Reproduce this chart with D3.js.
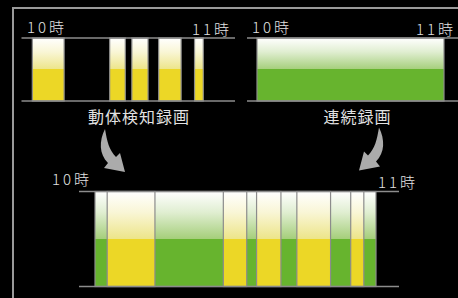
<!DOCTYPE html>
<html>
<head>
<meta charset="utf-8">
<script src="https://cdn.jsdelivr.net/npm/d3@7"></script>
<style>
  body { margin: 0; background: #000; }
  svg { display: block; }
  text { font-family: "Noto Sans CJK JP", "Noto Sans", sans-serif; fill: #e2e2e2; }
</style>
</head>
<body>
<div id="chart"></div>
<script>
// recorded segments, in minutes after 10:00
const motionSegments = [[2.6, 12.8], [27.4, 32.4], [34.5, 39.7], [43.1, 50.3], [54.6, 57.4]];
const continuousSegments = [[0, 60]];
const timeLabels = ["10時", "11時"];
const panelTitles = ["動体検知録画", "連続録画"];

const width = 458, height = 298;

const svg = d3.select("#chart")
    .append("svg")
    .attr("width", width)
    .attr("height", height);

svg.append("rect").attr("width", width).attr("height", height).attr("fill", "#000");

// gradients: white fading to pale colour on top half, solid colour below
const defs = svg.append("defs");
function addGradient(id, pale, solid) {
    const g = defs.append("linearGradient").attr("id", id)
        .attr("x1", 0).attr("y1", 0).attr("x2", 0).attr("y2", 1);
    g.append("stop").attr("offset", "0%").attr("stop-color", "#ffffff");
    g.append("stop").attr("offset", "22%").attr("stop-color", d3.interpolateRgb("#ffffff", pale)(0.35));
    g.append("stop").attr("offset", "49.5%").attr("stop-color", pale);
    g.append("stop").attr("offset", "49.5%").attr("stop-color", solid);
    g.append("stop").attr("offset", "100%").attr("stop-color", solid);
}
addGradient("yellowGrad", "#ede58a", "#ecd726");
addGradient("greenGrad", "#a6cf7c", "#67b42e");

// outer frame
svg.append("rect")
    .attr("x", 13).attr("y", 8)
    .attr("width", 500).attr("height", 400)
    .attr("fill", "none")
    .attr("stroke", "#9a9a9a")
    .attr("stroke-width", 2);

function drawPanel(opts) {
    const x = d3.scaleLinear().domain([0, 60]).range(opts.range);
    const g = svg.append("g");

    const drawBars = (segments, grad) => {
        g.selectAll(null)
            .data(segments)
            .join("rect")
            .attr("x", d => x(d[0]))
            .attr("y", opts.top)
            .attr("width", d => x(d[1]) - x(d[0]))
            .attr("height", opts.bottom - opts.top)
            .attr("fill", `url(#${grad})`)
            .attr("stroke", "#8c8c8c")
            .attr("stroke-width", 1.2);
    };
    opts.layers.forEach(l => drawBars(l.data, l.grad));

    [opts.top, opts.bottom].forEach(y => {
        g.append("line")
            .attr("x1", opts.line[0]).attr("x2", opts.line[1])
            .attr("y1", y).attr("y2", y)
            .attr("stroke", "#8c8c8c")
            .attr("stroke-width", 1.5);
    });

    g.append("text")
        .attr("x", opts.labelLeft[0]).attr("y", opts.labelLeft[1])
        .attr("font-size", 15).attr("font-weight", 300).attr("letter-spacing", 3)
        .text(timeLabels[0]);
    g.append("text")
        .attr("x", opts.labelRight[0]).attr("y", opts.labelRight[1])
        .attr("font-size", 15).attr("font-weight", 300).attr("letter-spacing", 3)
        .attr("text-anchor", "end")
        .text(timeLabels[1]);
}

drawPanel({
    range: [24.2, 211.4], top: 38, bottom: 101, line: [21.5, 235],
    labelLeft: [27, 33], labelRight: [232, 34.5],
    layers: [{data: motionSegments, grad: "yellowGrad"}]
});
drawPanel({
    range: [257, 444], top: 38, bottom: 101, line: [247, 470],
    labelLeft: [252, 33], labelRight: [456, 34.5],
    layers: [{data: continuousSegments, grad: "greenGrad"}]
});
drawPanel({
    range: [95, 376], top: 191.5, bottom: 286.5, line: [79, 399],
    labelLeft: [52, 185], labelRight: [418, 188],
    layers: [{data: continuousSegments, grad: "greenGrad"}, {data: motionSegments, grad: "yellowGrad"}]
});

// titles
svg.append("text").attr("x", 139).attr("y", 123)
    .attr("text-anchor", "middle").attr("font-size", 16).attr("letter-spacing", 1)
    .text(panelTitles[0]);
svg.append("text").attr("x", 357.5).attr("y", 123)
    .attr("text-anchor", "middle").attr("font-size", 16).attr("letter-spacing", 1)
    .text(panelTitles[1]);

// curved arrows pointing into the combined timeline
const arrowPath = "M105,129 C99,141 99,154 108,163 L104,168 L125,172 L120,153 L116,157 C109,150 107,141 105,129 Z";
svg.append("path").attr("d", arrowPath).attr("fill", "#ababab");
svg.append("path").attr("d", arrowPath).attr("fill", "#ababab")
    .attr("transform", "translate(484,-1.5) scale(-1,1)");
</script>
</body>
</html>
